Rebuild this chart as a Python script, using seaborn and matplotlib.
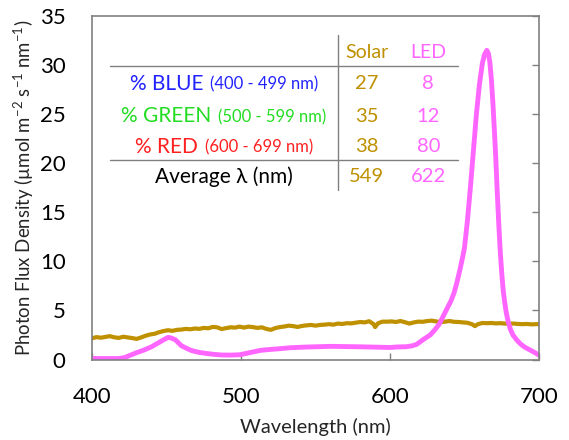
import matplotlib
matplotlib.use("Agg")
import matplotlib.pyplot as plt
import pandas as pd
import seaborn as sns
from matplotlib.offsetbox import AnnotationBbox, HPacker, TextArea

# ------------------------------
# DATA
# ------------------------------
solar_nm = [400, 403, 406, 409, 412, 415, 418, 421, 424, 427, 430, 433, 436, 439, 442,
            445, 448, 451, 454, 457, 460, 463, 466, 469, 472, 475, 478, 481, 484, 487,
            490, 493, 496, 499, 502, 505, 508, 511, 514, 517, 520, 523, 526, 529, 532,
            535, 538, 541, 544, 547, 550, 553, 556, 559, 562, 565, 568, 571, 574, 577,
            580, 583, 586, 589, 590, 592, 595, 598, 601, 604, 607, 610, 613, 616, 619,
            622, 625, 628, 631, 634, 637, 640, 643, 646, 649, 652, 655, 657, 659, 662,
            665, 668, 671, 674, 677, 680, 683, 686, 689, 692, 695, 698, 700]
solar_flux = [2.16, 2.28, 2.22, 2.30, 2.38, 2.26, 2.20, 2.32, 2.25, 2.18, 2.10, 2.25, 2.42, 2.55, 2.62,
              2.78, 2.90, 2.98, 2.92, 3.02, 3.05, 3.12, 3.08, 3.16, 3.12, 3.22, 3.18, 3.32, 3.28, 3.10,
              3.20, 3.28, 3.25, 3.35, 3.25, 3.35, 3.30, 3.22, 3.28, 3.12, 3.02, 3.20, 3.30, 3.36, 3.45,
              3.40, 3.32, 3.42, 3.48, 3.52, 3.45, 3.52, 3.55, 3.60, 3.55, 3.66, 3.62, 3.70, 3.68, 3.75,
              3.82, 3.78, 3.90, 3.60, 3.30, 3.70, 3.86, 3.85, 3.88, 3.82, 3.92, 3.80, 3.66, 3.78, 3.86,
              3.84, 3.92, 3.96, 3.88, 3.80, 3.86, 3.92, 3.84, 3.82, 3.78, 3.74, 3.60, 3.40, 3.60, 3.72,
              3.70, 3.72, 3.68, 3.70, 3.66, 3.65, 3.66, 3.62, 3.60, 3.62, 3.58, 3.60, 3.60]

led_nm = [400, 410, 418, 422, 426, 430, 435, 440, 444, 448, 451, 453, 456, 460, 464,
          467, 472, 476, 482, 487, 493, 499, 506, 513, 520, 526, 533, 544, 560, 578,
          593, 600, 605, 611, 615, 618, 622, 627, 630, 633, 636, 639, 641, 643, 645,
          647, 649, 650, 652, 654, 656, 658, 660, 662, 663.5, 665, 666, 667, 668, 669,
          670, 671, 672, 673, 674, 675, 676, 677, 678, 679.4, 681, 682.5, 685, 687.5, 690,
          693, 696, 700]
led_flux = [0.10, 0.10, 0.10, 0.20, 0.45, 0.70, 0.97, 1.30, 1.65, 2.00, 2.25, 2.20, 2.00, 1.40, 1.10,
            0.90, 0.72, 0.63, 0.52, 0.46, 0.45, 0.48, 0.70, 0.93, 1.03, 1.10, 1.20, 1.27, 1.34, 1.30,
            1.25, 1.22, 1.28, 1.30, 1.40, 1.55, 2.00, 2.50, 3.00, 3.60, 4.50, 5.40, 6.00, 6.80, 7.90,
            9.20, 10.6, 11.4, 14.2, 17.6, 21.3, 25.0, 28.0, 30.2, 31.1, 31.5, 31.2, 30.3, 28.6, 26.3,
            23.5, 20.5, 17.0, 13.8, 11.0, 8.8, 7.0, 5.8, 4.8, 3.8, 3.0, 2.5, 2.0, 1.6, 1.3,
            1.05, 0.80, 0.45]

# table contents
band_names = ["% BLUE", "% GREEN", "% RED"]
band_ranges = ["(400 - 499 nm)", "(500 - 599 nm)", "(600 - 699 nm)"]
band_colors = ["#2222FF", "#22DD22", "#FF2020"]
solar_pct = [27, 35, 38]
led_pct = [8, 12, 80]
avg_label = "Average λ (nm)"
solar_avg = 549
led_avg = 622

SOLAR_COLOR = "#BF9000"
LED_COLOR = "#FF66FF"
GRID_GREY = "#808080"

# ------------------------------
# STYLE
# ------------------------------
sns.set_style("white")
plt.rcParams["font.family"] = ["Lato", "DejaVu Sans"]
plt.rcParams["mathtext.fontset"] = "custom"
plt.rcParams["mathtext.rm"] = "Lato"

solar_df = pd.DataFrame({"nm": solar_nm, "flux": solar_flux})
led_df = pd.DataFrame({"nm": led_nm, "flux": led_flux})

fig = plt.figure(figsize=(5.69, 4.40), dpi=100)
ax = fig.add_axes([92 / 569, 1 - 359.5 / 440, (539 - 92) / 569, (359.5 - 16) / 440])

sns.lineplot(data=solar_df, x="nm", y="flux", color=SOLAR_COLOR, linewidth=3, ax=ax)
sns.lineplot(data=led_df, x="nm", y="flux", color=LED_COLOR, linewidth=3.5, ax=ax)

ax.set_xlim(400, 700)
ax.set_ylim(0, 35)
ax.set_xticks([400, 500, 600, 700])
ax.set_yticks(range(0, 36, 5))
ax.set_xlabel("Wavelength (nm)", fontsize=14.5, labelpad=8)
ax.set_ylabel(r"Photon Flux Density (µmol m$\mathregular{^{-2}}$ s$\mathregular{^{-1}}$ nm$\mathregular{^{-1}}$)",
              fontsize=13.4, labelpad=3)

for side in ["left", "right", "top", "bottom"]:
    ax.spines[side].set_visible(True)
    ax.spines[side].set_color(GRID_GREY)
    ax.spines[side].set_linewidth(1.2)
ax.tick_params(axis="both", direction="in", length=5, width=1, color=GRID_GREY,
               labelsize=16, labelcolor="black")
ax.tick_params(axis="y", right=True, pad=19)
ax.tick_params(axis="x", top=False, bottom=True, pad=19.5)

# ------------------------------
# TABLE INSIDE THE PLOT
# ------------------------------
label_x = 488.6
solar_x = 584.4
led_x = 625.7
row_y = [28.1, 24.8, 21.7]
avg_y = 18.6
head_y = 31.3

ax.text(solar_x, head_y, "Solar", color=SOLAR_COLOR, fontsize=14, ha="center", va="center")
ax.text(led_x, head_y, "LED", color=LED_COLOR, fontsize=14, ha="center", va="center")

for name, rng, col, s, l, y in zip(band_names, band_ranges, band_colors, solar_pct, led_pct, row_y):
    big = TextArea(name, textprops=dict(color=col, fontsize=15))
    small = TextArea(rng, textprops=dict(color=col, fontsize=12))
    box = HPacker(children=[big, small], align="baseline", pad=0, sep=5)
    ab = AnnotationBbox(box, (label_x, y), xycoords="data", box_alignment=(0.5, 0.5),
                        frameon=False, pad=0)
    ax.add_artist(ab)
    ax.text(solar_x, y, str(s), color=SOLAR_COLOR, fontsize=14.5, ha="center", va="center")
    ax.text(led_x, y, str(l), color=LED_COLOR, fontsize=14.5, ha="center", va="center")

ax.text(label_x, avg_y, avg_label, color="black", fontsize=15, ha="center", va="center")
ax.text(solar_x, avg_y, str(solar_avg), color=SOLAR_COLOR, fontsize=14.5, ha="center", va="center")
ax.text(led_x, avg_y, str(led_avg), color=LED_COLOR, fontsize=14.5, ha="center", va="center")

ax.plot([412, 645.6], [29.9, 29.9], color=GRID_GREY, linewidth=1)
ax.plot([412, 645.6], [20.3, 20.3], color=GRID_GREY, linewidth=1)
ax.plot([565.1, 565.1], [17.3, 33.1], color=GRID_GREY, linewidth=1)

fig.savefig("out.png", dpi=100)
